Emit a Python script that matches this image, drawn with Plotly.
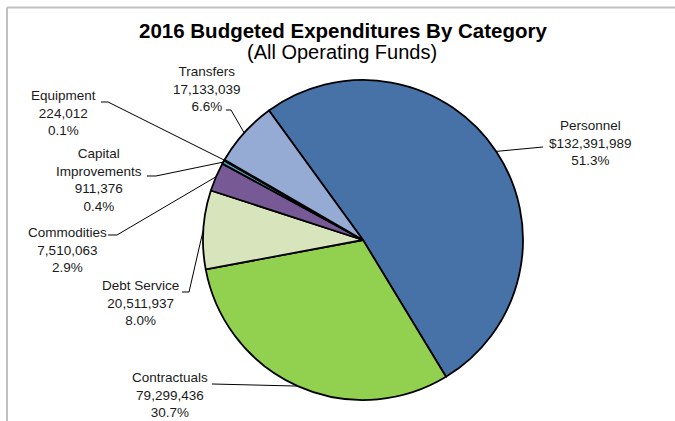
import math
import plotly.graph_objects as go

# Budget data (all operating funds, 2016)
categories = ["Personnel", "Contractuals", "Debt Service", "Commodities",
              "Capital Improvements", "Equipment", "Transfers"]
amounts = [132391989, 79299436, 20511937, 7510063, 911376, 224012, 17133039]
label_names = ["Personnel", "Contractuals", "Debt Service", "Commodities",
               "Capital<br>Improvements", "Equipment", "Transfers"]
value_prefix = ["$", "", "", "", "", "", ""]
slice_colors = ["#4672A8", "#92D050", "#D8E4BC", "#775A95",
                "#4BACC6", "#E0833E", "#95ABD4"]

W, H = 675, 421
CX, CY, R = 363, 240, 160          # pie centre and radius in pixels
ROTATION = -36                      # start angle of first slice (deg, clockwise from 12 o'clock)

def px(x):
    return x / W

def py(y):
    return 1 - y / H

total = sum(amounts)
shares = [a / total for a in amounts]

# Label block centres and leader-line anchor points (pixels)
label_centres = {
    "Personnel": (590, 143),
    "Contractuals": (170, 395),
    "Debt Service": (140, 303),
    "Commodities": (67, 250),
    "Capital Improvements": (99, 180),
    "Equipment": (63, 113),
    "Transfers": (207, 89),
}
leader_anchors = {
    "Personnel": [(543, 147)],
    "Contractuals": [(212, 384)],
    "Debt Service": [(189, 292), (182, 292)],
    "Commodities": [(117, 235), (108, 235)],
    "Capital Improvements": [(156, 176), (147, 176)],
    "Equipment": [(108, 102), (101, 102)],
    "Transfers": [(231, 110), (226, 110)],
}

fig = go.Figure(go.Pie(
    labels=categories,
    values=amounts,
    sort=False,
    direction="clockwise",
    rotation=ROTATION,
    textinfo="none",
    hoverinfo="label+value+percent",
    marker=dict(colors=slice_colors, line=dict(color="#000000", width=1.8)),
    domain=dict(x=[px(CX - R), px(CX + R)], y=[py(CY + R), py(CY - R)]),
    showlegend=False,
))

font_family = "Liberation Sans, Arial, sans-serif"
annotations = []
shapes = []

start = ROTATION
for cat, name, pre, amt, share in zip(categories, label_names, value_prefix, amounts, shares):
    span = share * 360
    mid = math.radians(start + span / 2)
    start += span
    tip = (CX + R * math.sin(mid), CY - R * math.cos(mid))

    text = f"{name}<br>{pre}{amt:,}<br>{share:.1%}"
    lx, ly = label_centres[cat]
    annotations.append(dict(
        x=px(lx), y=py(ly), xref="paper", yref="paper",
        text=text, showarrow=False, align="center",
        xanchor="center", yanchor="middle",
        font=dict(family=font_family, size=13.5, color="#1A1A1A"),
    ))

    pts = [tip] + leader_anchors[cat]
    path = "M " + " L ".join(f"{px(x):.5f},{py(y):.5f}" for x, y in pts)
    shapes.append(dict(type="path", xref="paper", yref="paper", path=path,
                       line=dict(color="#000000", width=1)))

# Title and subtitle
annotations.append(dict(
    x=px(343), y=py(30), xref="paper", yref="paper",
    text="<b>2016 Budgeted Expenditures By Category</b>", showarrow=False,
    xanchor="center", yanchor="middle",
    font=dict(family=font_family, size=20.5, color="#000000"),
))
annotations.append(dict(
    x=px(342), y=py(52), xref="paper", yref="paper",
    text="(All Operating Funds)", showarrow=False,
    xanchor="center", yanchor="middle",
    font=dict(family=font_family, size=20, color="#000000"),
))

# Chart frame (top and left edges)
shapes.append(dict(type="line", xref="paper", yref="paper",
                   x0=px(7), y0=py(7.5), x1=1, y1=py(7.5),
                   line=dict(color="#C0C0C0", width=2)))
shapes.append(dict(type="line", xref="paper", yref="paper",
                   x0=px(7), y0=py(7.5), x1=px(7), y1=0,
                   line=dict(color="#C0C0C0", width=2)))

fig.update_layout(
    width=W, height=H, autosize=False,
    margin=dict(l=0, r=0, t=0, b=0),
    paper_bgcolor="#FFFFFF", plot_bgcolor="#FFFFFF",
    annotations=annotations, shapes=shapes,
)

fig.write_html("out.html")
